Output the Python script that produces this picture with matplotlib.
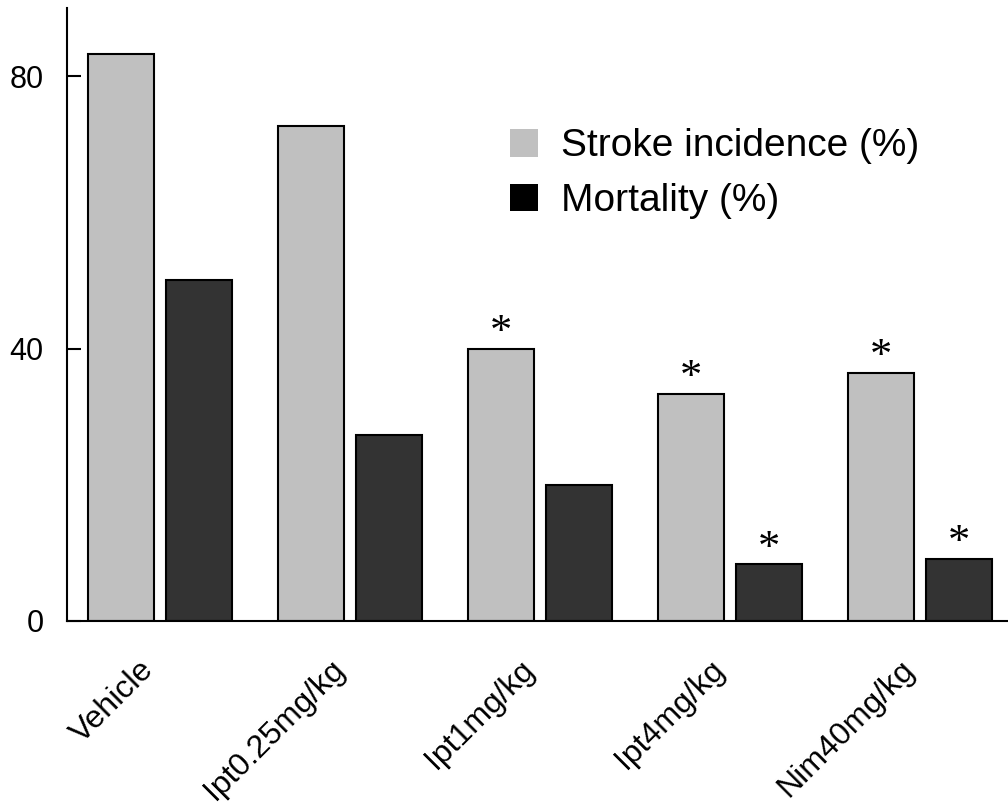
import numpy as np
import matplotlib
matplotlib.use('Agg')
import matplotlib.pyplot as plt
import matplotlib.transforms as mtransforms
from matplotlib.patches import Patch

plt.rcParams['font.family'] = ['Liberation Sans', 'DejaVu Sans']

groups = ['Vehicle', 'Ipt0.25mg/kg', 'Ipt1mg/kg', 'Ipt4mg/kg', 'Nim40mg/kg']
stroke = [83.3, 72.7, 40.0, 33.3, 36.4]
mortality = [50.0, 27.3, 20.0, 8.3, 9.1]
stroke_sig = [False, False, True, True, True]
mortality_sig = [False, False, False, True, True]

x = np.arange(len(groups))
width = 0.35
offset = 0.205

fig = plt.figure(figsize=(10.08, 8.07), dpi=100)
ax = fig.add_axes([0.0665, 0.2305, 0.9335, 0.7595])

b1 = ax.bar(x - offset, stroke, width, color='#c0c0c0', edgecolor='black', linewidth=1.5)
b2 = ax.bar(x + offset, mortality, width, color='#333333', edgecolor='black', linewidth=1.5)

# significance stars above bars
for bars, flags in ((b1, stroke_sig), (b2, mortality_sig)):
    for rect, sig in zip(bars, flags):
        if sig:
            ax.annotate('*', (rect.get_x() + rect.get_width() / 2, rect.get_height()),
                        xytext=(0, -3), textcoords='offset points',
                        ha='center', va='bottom', fontsize=32,
                        family='Liberation Serif')

ax.set_xlim(-0.489, 4.463)
ax.set_ylim(0, 90)
ax.set_yticks([0, 40, 80])
ax.tick_params(axis='y', direction='in', length=10, width=1.5, labelsize=22, pad=17)
ax.tick_params(axis='x', length=0, labelsize=23, pad=24)
ax.set_xticks(x)
ax.set_xticklabels(groups, rotation=45, ha='right', rotation_mode='anchor')
shift = mtransforms.ScaledTranslation(-21 / 100, 0, fig.dpi_scale_trans)
for lbl in ax.get_xticklabels():
    lbl.set_transform(lbl.get_transform() + shift)

for side in ('top', 'right'):
    ax.spines[side].set_visible(False)
for side in ('left', 'bottom'):
    ax.spines[side].set_linewidth(1.5)

handles = [Patch(facecolor='#c0c0c0', edgecolor='none', label='Stroke incidence (%)'),
           Patch(facecolor='black', edgecolor='none', label='Mortality (%)')]
ax.legend(handles=handles, loc='upper left', bbox_to_anchor=(0.454, 0.829),
          frameon=False, fontsize=28, handlelength=0.72, handleheight=0.72,
          handletextpad=0.6, labelspacing=0.48, borderaxespad=0)

fig.savefig('out.png', dpi=100)
